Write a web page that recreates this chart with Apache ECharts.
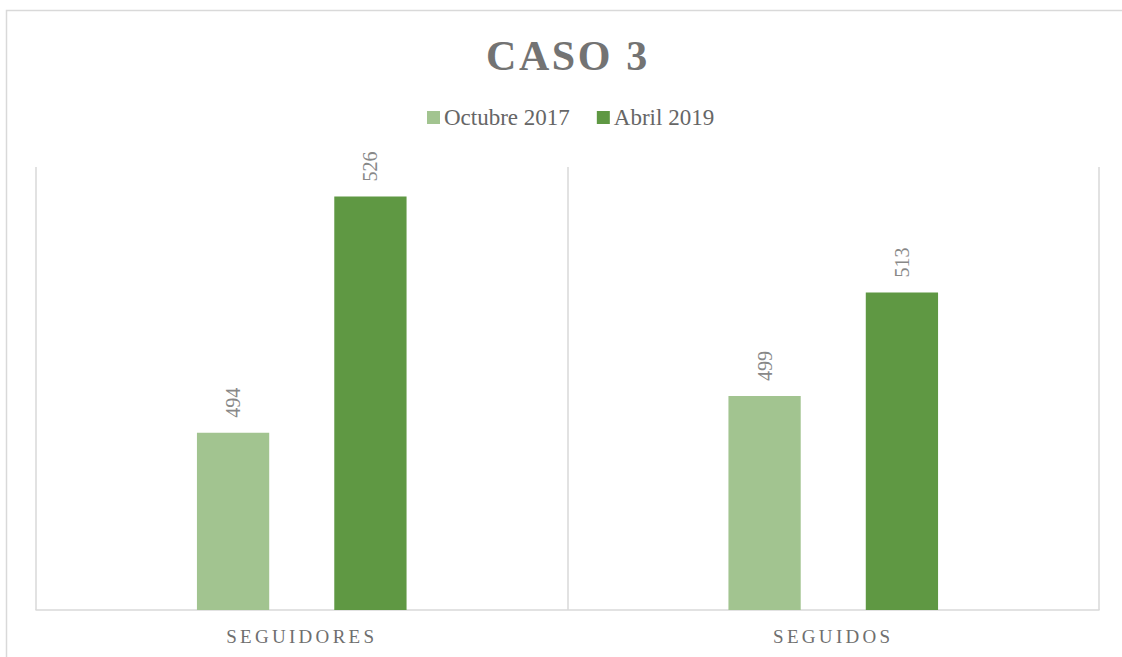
<!DOCTYPE html>
<html>
<head>
<meta charset="utf-8">
<script src="https://cdn.jsdelivr.net/npm/echarts@6/dist/echarts.min.js"></script>
<style>
html,body{margin:0;padding:0;background:#fff;}
#c{width:1122px;height:657px;}
</style>
</head>
<body>
<div id="c"></div>
<script>
const titleText = 'CASO 3';
const categories = ['SEGUIDORES', 'SEGUIDOS'];
const seriesNames = ['Octubre 2017', 'Abril 2019'];
const octubre2017 = [494, 499];
const abril2019 = [526, 513];
const colors = ['#A2C490', '#5F9843'];

const serif = '"Liberation Serif", "Times New Roman", serif';
const chart = echarts.init(document.getElementById('c'), null, {renderer: 'svg'});

function labelCfg() {
  return {
    show: true,
    position: 'top',
    distance: 15,
    rotate: 90,
    align: 'left',
    verticalAlign: 'middle',
    fontFamily: serif,
    fontSize: 20,
    color: '#888888'
  };
}

chart.setOption({
  animation: false,
  backgroundColor: '#ffffff',
  title: {
    text: titleText,
    left: 481,
    top: 30,
    textStyle: {fontFamily: serif, fontWeight: 'bold', fontSize: 42, color: '#737373'}
  },
  legend: {
    data: seriesNames,
    top: 106,
    left: 427,
    padding: 0,
    itemWidth: 13,
    itemHeight: 13,
    itemGap: 27,
    icon: 'rect',
    textStyle: {fontFamily: serif, fontSize: 23, color: '#666666', padding: [0, 0, 0, -1]}
  },
  graphic: [{
    type: 'rect',
    shape: {x: 6.5, y: 10.5, width: 1300, height: 800},
    style: {fill: null, stroke: '#d9d9d9', lineWidth: 1.5},
    silent: true,
    z: -10
  }],
  grid: {left: 36, right: 23, top: 167, bottom: 47},
  xAxis: {
    type: 'category',
    data: categories,
    axisLine: {show: true, lineStyle: {color: '#d9d9d9', width: 1.5}},
    axisTick: {show: false},
    splitLine: {show: true, interval: 0, lineStyle: {color: '#d9d9d9', width: 1.5}},
    axisLabel: {fontFamily: serif, fontSize: 19, color: '#6f6f6f', margin: 17}
  },
  yAxis: {
    type: 'value',
    min: 470,
    max: 530,
    interval: 10,
    show: false,
    splitLine: {show: false}
  },
  series: [
    {
      name: seriesNames[0], type: 'bar', data: octubre2017,
      barWidth: '13.6%', barGap: '90%',
      itemStyle: {color: colors[0]},
      label: labelCfg()
    },
    {
      name: seriesNames[1], type: 'bar', data: abril2019,
      barWidth: '13.6%', barGap: '90%',
      itemStyle: {color: colors[1]},
      label: labelCfg()
    }
  ]
});

function spaceOut() {
  const spacing = {'SEGUIDORES': '3.3px', 'SEGUIDOS': '3.3px', 'CASO 3': '2.6px'};
  document.querySelectorAll('#c svg text').forEach(function (t) {
    const s = t.textContent;
    if (spacing[s]) {
      t.style.letterSpacing = spacing[s];
    }
  });
}
spaceOut();
chart.on('finished', spaceOut);
setTimeout(spaceOut, 50);
</script>
</body>
</html>
